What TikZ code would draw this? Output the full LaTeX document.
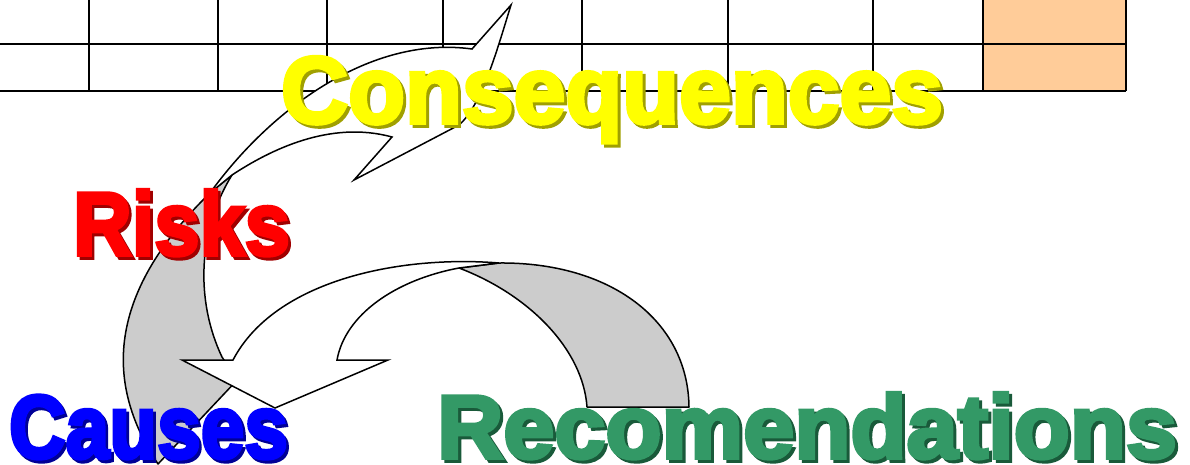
\documentclass[tikz,border=0pt]{standalone}
\usepackage{fontspec}
\usepackage{graphicx}
\newfontfamily\heavy{Liberation Sans Bold}[FakeBold=4]
\definecolor{peach}{RGB}{255,204,153}
\definecolor{bandgray}{RGB}{204,204,204}
\definecolor{consY}{RGB}{255,255,0}
\definecolor{consYd}{RGB}{160,160,0}
\definecolor{riskR}{RGB}{255,0,0}
\definecolor{riskRd}{RGB}{160,0,0}
\definecolor{causB}{RGB}{0,0,255}
\definecolor{causBd}{RGB}{0,0,150}
\definecolor{recG}{RGB}{51,153,102}
\definecolor{recGd}{RGB}{25,90,58}
\newcommand\shadowtext[5]{%
  \resizebox{#1}{\height}{\fontsize{#2}{#2}\heavy
    \rlap{\hspace*{3pt}\raisebox{-3pt}{\color{#4}#5}}%
    \color{#3}#5}}
\tikzset{
  gridline/.style={line width=2.2pt},
  bandshade/.style={fill=bandgray, draw=black, line width=1.5pt, line join=round},
  bandwhite/.style={fill=white, draw=black, line width=1.5pt, line join=miter},
  word/.style={inner sep=0pt, outer sep=0pt, anchor=base west}
}
\begin{document}
\begin{tikzpicture}[x=1pt, y=-1pt]
\useasboundingbox (0,0) rectangle (1190,465);
% peach cell
\fill[peach] (983,0) rectangle (1126,91);
% grid
\draw[gridline] (0,44) -- (1126,44);
\draw[gridline] (0,91) -- (1126,91);
\foreach \gx in {89,218,327,443,582,728,873,983,1126}
  \draw[gridline] (\gx,0) -- (\gx,91);
% gray underside of upper arrow
\filldraw[bandshade] (210,193) .. controls (95,305) and (113,396) .. (158,464)
  -- (240,377) -- (226,363) -- (222,357)
  .. controls (195,300) and (198,230) .. (232,175) -- cycle;
% upper white arrow (Risks -> Consequences)
\filldraw[bandwhite] (210,193) .. controls (270,110) and (370,35) .. (472,49)
  -- (511,5) .. controls (497,50) and (482,105) .. (459,125) -- (354,180) -- (392,137)
  .. controls (330,120) and (270,150) .. (232,175) -- cycle;
% gray underside of lower arrow
\filldraw[bandshade] (587,407) -- (689,407)
  .. controls (688,320) and (610,262) .. (499,263)
  -- (459,268)
  .. controls (530,295) and (583,350) .. (587,407) -- cycle;
% lower white arrow (Recomendations -> Causes)
\filldraw[bandwhite] (499,263) .. controls (400,255) and (275,280) .. (233,360)
  -- (182,360) -- (275,408) -- (388,360) -- (337,360)
  .. controls (345,315) and (395,280) .. (459,268) -- cycle;
% words
\node[word] (cons) at (281,123) {\shadowtext{662pt}{95pt}{consY}{consYd}{Consequences}};
\node[word] (risks) at (73,255) {\shadowtext{217pt}{90pt}{riskR}{riskRd}{Risks}};
\node[word] (causes) at (9,458) {\shadowtext{279pt}{90pt}{causB}{causBd}{Causes}};
\node[word] (recs) at (437,458) {\shadowtext{740pt}{90pt}{recG}{recGd}{Recomendations}};
\end{tikzpicture}
\end{document}
